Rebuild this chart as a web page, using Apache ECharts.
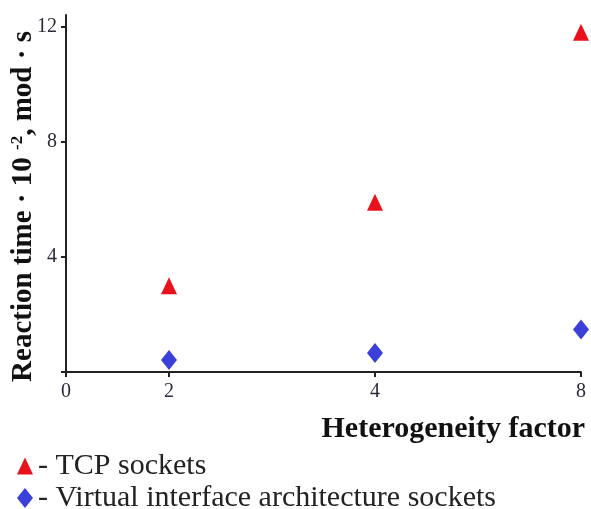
<!DOCTYPE html>
<html>
<head>
<meta charset="utf-8">
<script src="https://cdn.jsdelivr.net/npm/echarts@6/dist/echarts.min.js"></script>
<style>html,body{margin:0;padding:0;background:#fff}#c{width:591px;height:509px}</style>
</head>
<body>
<div id="c"></div>
<script>
// Category slots along the x axis (empty slots reproduce the uneven spacing of the original)
const xCategories = ['0', '2', '', '4', '', '8'];
const heterogeneity = ['2', '4', '8'];
const tcpSockets = [3.0, 5.9, 11.8];
const viaSockets = [0.42, 0.66, 1.48];
const yTicks = [0, 4, 8, 12];

const serif = '"Liberation Serif", "DejaVu Serif", serif';
const legendText = { fontFamily: serif, fontSize: 30, color: '#222' };
const chart = echarts.init(document.getElementById('c'));
chart.setOption({
  animation: false,
  backgroundColor: '#fff',
  grid: { left: 66, right: 10, top: 15, bottom: 137, containLabel: false, outerBoundsMode: 'none' },
  xAxis: {
    type: 'category',
    data: xCategories,
    boundaryGap: false,
    axisLine: { lineStyle: { color: '#222', width: 2 } },
    axisTick: { show: true, length: 5, lineStyle: { color: '#222', width: 2 },
      interval: (i, v) => v !== '' },
    axisLabel: { interval: 0, color: '#2a2a3a', fontFamily: serif, fontSize: 20, margin: 10 },
    splitLine: { show: false },
    name: 'Heterogeneity factor',
    nameLocation: 'end',
    nameGap: 4,
    nameMoveOverlap: false,
    nameTextStyle: { fontFamily: serif, fontWeight: 'bold', fontSize: 30, color: '#111',
      align: 'right', verticalAlign: 'top', padding: [42, 0, 0, 0] }
  },
  yAxis: {
    type: 'value',
    min: 0,
    max: 12.4,
    axisLine: { show: true, lineStyle: { color: '#222', width: 2 } },
    axisTick: { show: true, length: 5, customValues: yTicks, lineStyle: { color: '#222', width: 2 } },
    axisLabel: { customValues: yTicks.filter(v => v !== 0), color: '#2a2a3a', fontFamily: serif, fontSize: 20, margin: 9 },
    splitLine: { show: false },
    name: '{a|Reaction time · 10 }{s|-2}{a|, mod · s}',
    nameLocation: 'middle',
    nameRotate: 90,
    nameGap: 27,
    nameMoveOverlap: false,
    nameTextStyle: {
      padding: [0, 26, 0, 0],
      rich: {
        a: { fontFamily: serif, fontWeight: 'bold', fontSize: 29, color: '#111', lineHeight: 30 },
        s: { fontFamily: serif, fontWeight: 'bold', fontSize: 17, color: '#111', lineHeight: 30, verticalAlign: 'top', padding: [0, 0, 14, 0] }
      }
    }
  },
  legend: [
    {
      left: 12, top: 446, itemWidth: 16, itemHeight: 17,
      formatter: n => '- ' + n, textStyle: legendText,
      data: [{ name: 'TCP sockets', icon: 'triangle' }]
    },
    {
      left: 12, top: 478, itemWidth: 16, itemHeight: 20,
      formatter: n => '- ' + n, textStyle: legendText,
      data: [{ name: 'Virtual interface architecture sockets', icon: 'diamond' }]
    }
  ],
  series: [
    {
      name: 'TCP sockets',
      type: 'scatter',
      symbol: 'triangle',
      symbolSize: [16, 17],
      itemStyle: { color: '#e8121c', opacity: 1 },
      data: heterogeneity.map((x, i) => [x, tcpSockets[i]])
    },
    {
      name: 'Virtual interface architecture sockets',
      type: 'scatter',
      symbol: 'diamond',
      symbolSize: [16, 20],
      itemStyle: { color: '#3a40d8', opacity: 1 },
      data: heterogeneity.map((x, i) => [x, viaSockets[i]])
    }
  ]
});
</script>
</body>
</html>
